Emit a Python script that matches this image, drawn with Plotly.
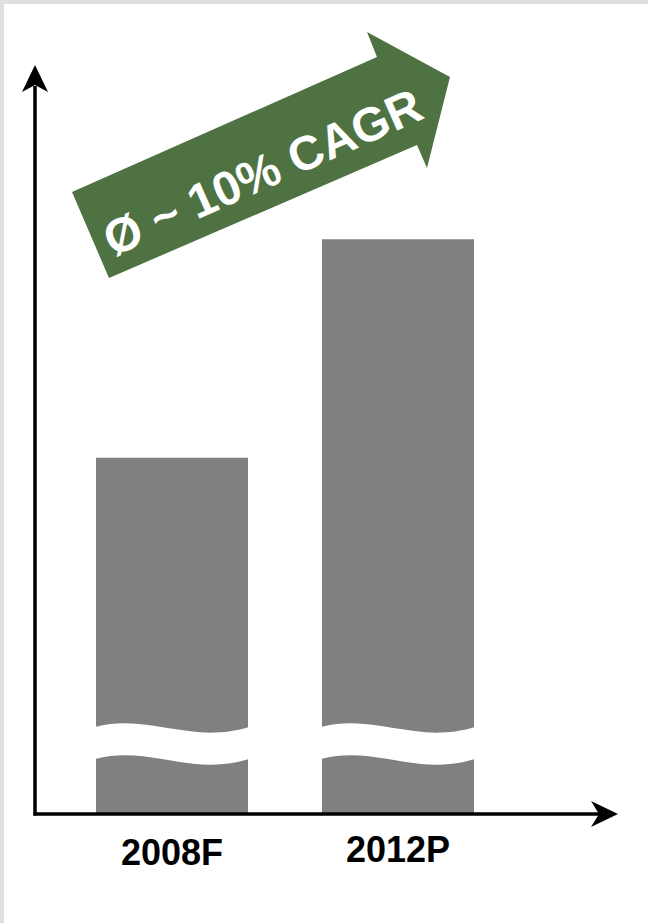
import plotly.graph_objects as go

# ---- data ----
categories = ["2008F", "2012P"]
values = [47.5, 76.7]          # broken axis, relative heights
cagr_label = "Ø ~ 10% CAGR"

# ---- layout constants ----
W, H = 648, 923
ML, MR, MT, MB = 36, 30, 65, 110
PW, PH = W - ML - MR, H - MT - MB
XMIN, XMAX = -0.6018, 1.9735
YMAX = 100
BAR_W = 0.6726
BAR_COLOR = "#808080"
GREEN = "#4E7242"
FRAME = "#E0E0E0"

def px2paper(px, py):
    return (px - ML) / PW, (H - MB - py) / PH

def px2data(px, py):
    return XMIN + (px - ML) / PW * (XMAX - XMIN), (H - MB - py) / PH * YMAX

def path_paper(points, close=True):
    s = ""
    for k, (px, py) in enumerate(points):
        x, y = px2paper(px, py)
        s += ("M" if k == 0 else "L") + f"{x:.5f},{y:.5f}"
    return s + ("Z" if close else "")

fig = go.Figure()
fig.add_trace(go.Bar(x=categories, y=values, width=BAR_W,
                     marker=dict(color=BAR_COLOR, line=dict(width=0)),
                     hoverinfo="skip", showlegend=False))

shapes = []
# grey frame strips (top and left)
shapes.append(dict(type="path", xref="paper", yref="paper", layer="above",
                   path=path_paper([(0, 0), (W, 0), (W, 4), (0, 4)]),
                   fillcolor=FRAME, line=dict(width=0)))
shapes.append(dict(type="path", xref="paper", yref="paper", layer="above",
                   path=path_paper([(0, 0), (4, 0), (4, H), (0, H)]),
                   fillcolor=FRAME, line=dict(width=0)))

# axis break bands (white wavy) on each bar
for i, _ in enumerate(categories):
    cpx = ML + (i - XMIN) / (XMAX - XMIN) * PW
    bw = BAR_W / (XMAX - XMIN) * PW
    l, r = cpx - bw / 2 - 1, cpx + bw / 2 + 1
    def P(fx, py):
        x, y = px2data(l + fx * (r - l), py)
        return f"{x:.5f},{y:.5f}"
    top = [727, 713, 745, 727]
    bot = [759, 745, 777, 759]
    d = (f"M{P(0, top[0])} C{P(0.355, top[1])} {P(0.618, top[2])} {P(1, top[3])} "
         f"L{P(1, bot[3])} C{P(0.618, bot[2])} {P(0.355, bot[1])} {P(0, bot[0])} Z")
    shapes.append(dict(type="path", xref="x", yref="y", path=d, layer="above",
                       fillcolor="white", line=dict(width=0)))

# axes with arrowheads
AX = "#000000"
shapes.append(dict(type="line", xref="paper", yref="paper", layer="above",
                   x0=px2paper(35, 815.5)[0], y0=px2paper(35, 815.5)[1],
                   x1=px2paper(35, 86)[0], y1=px2paper(35, 86)[1],
                   line=dict(color=AX, width=3.5)))
shapes.append(dict(type="path", xref="paper", yref="paper", layer="above",
                   path=path_paper([(35, 65), (48, 92), (35, 85), (22, 92)]),
                   fillcolor=AX, line=dict(width=0)))
shapes.append(dict(type="line", xref="paper", yref="paper", layer="above",
                   x0=px2paper(33.5, 814)[0], y0=px2paper(33.5, 814)[1],
                   x1=px2paper(600, 814)[0], y1=px2paper(600, 814)[1],
                   line=dict(color=AX, width=3.5)))
shapes.append(dict(type="path", xref="paper", yref="paper", layer="above",
                   path=path_paper([(618, 814), (591, 801), (599, 814), (591, 827)]),
                   fillcolor=AX, line=dict(width=0)))

# green CAGR arrow
shapes.append(dict(type="path", xref="paper", yref="paper", layer="above",
                   path=path_paper([(72, 192), (377, 57), (367, 32), (450, 77),
                                    (427, 168), (417, 145), (109, 278)]),
                   fillcolor=GREEN, line=dict(width=0)))

annotations = []
cx, cy = px2paper(262, 172)
annotations.append(dict(xref="paper", yref="paper", x=cx, y=cy, text=f"<b>{cagr_label}</b>",
                        showarrow=False, textangle=-24, xanchor="center", yanchor="middle",
                        font=dict(family="Liberation Sans, Arial, sans-serif", size=48, color="white")))
label_y = [850.5, 847]
for c, ly in zip(categories, label_y):
    annotations.append(dict(xref="x", yref="paper", x=c, y=px2paper(0, ly + 2)[1],
                            text=f"<b>{c}</b>", showarrow=False, xanchor="center", yanchor="middle",
                            font=dict(family="Liberation Sans, Arial, sans-serif", size=36, color="black")))

fig.update_layout(
    width=W, height=H,
    margin=dict(l=ML, r=MR, t=MT, b=MB, pad=0),
    paper_bgcolor="white", plot_bgcolor="white",
    xaxis=dict(range=[XMIN, XMAX], showticklabels=False, showgrid=False, zeroline=False,
               showline=False, ticks="", fixedrange=True),
    yaxis=dict(range=[0, YMAX], showticklabels=False, showgrid=False, zeroline=False,
               showline=False, ticks="", fixedrange=True),
    shapes=shapes, annotations=annotations, showlegend=False,
)
fig.write_html("out.html", config={"displayModeBar": False},
               post_script="document.body.style.margin='0';document.body.style.padding='0';")
